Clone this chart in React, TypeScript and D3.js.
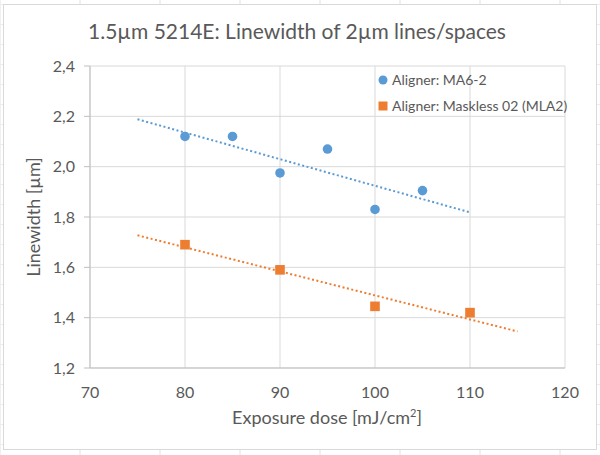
import * as d3 from 'd3';
import React from 'react';

// exposure dose [mJ/cm²] and measured linewidth [µm]
const ma6Dose = [80, 85, 90, 95, 100, 105];
const ma6Width = [2.12, 2.12, 1.975, 2.07, 1.83, 1.905];
const mlaDose = [80, 90, 100, 110];
const mlaWidth = [1.69, 1.59, 1.445, 1.42];

const xTicks = [70, 80, 90, 100, 110, 120];
const yTicks = [1.2, 1.4, 1.6, 1.8, 2.0, 2.2, 2.4];

const seriesNames = ['Aligner: MA6-2', 'Aligner: Maskless 02 (MLA2)'];
const BLUE = '#5B9BD5';
const ORANGE = '#ED7D31';
const TEXT = '#595959';
const FONT = 'Lato, "Open Sans", sans-serif';

// least squares line, like Excel's linear trendline
function fit(xs: number[], ys: number[]) {
    const mx = d3.mean(xs) as number;
    const my = d3.mean(ys) as number;
    let sxy = 0;
    let sxx = 0;
    xs.forEach((x, i) => {
        sxy += (x - mx) * (ys[i] - my);
        sxx += (x - mx) * (x - mx);
    });
    const slope = sxy / sxx;
    return (x: number) => my + slope * (x - mx);
}

const App: React.FC = () => {
    const width = 600;
    const height = 455;
    const plot = { left: 90, right: 565, top: 66, bottom: 368 };

    const x = d3.scaleLinear().domain([70, 120]).range([plot.left, plot.right]);
    const y = d3.scaleLinear().domain([1.2, 2.4]).range([plot.bottom, plot.top]);

    const line = d3.line<number[]>().x(d => x(d[0])).y(d => y(d[1]));

    // trendlines are forecast 5 units before and after the data
    const ma6Fit = fit(ma6Dose, ma6Width);
    const mlaFit = fit(mlaDose, mlaWidth);
    const ma6Trend = [75, 110].map(v => [v, ma6Fit(v)]);
    const mlaTrend = [75, 115].map(v => [v, mlaFit(v)]);

    const sheetCols = d3.range(0, 601, 80);
    const sheetRows = d3.range(0, 456, 20);

    return (
        <div>
            <style>{`body { margin: 0; }`}</style>
            <svg width={width} height={height} style={{ display: 'block', fontFamily: FONT }}>
                {/* spreadsheet behind the chart */}
                <rect width={width} height={height} fill="#fff" />
                {sheetCols.map(c => (
                    <line key={'c' + c} x1={c} x2={c} y1={0} y2={height} stroke="#e2e2e2" />
                ))}
                {sheetRows.map(r => (
                    <line key={'r' + r} x1={0} x2={width} y1={r + 4.5} y2={r + 4.5} stroke="#ececec" />
                ))}
                <rect x={3.5} y={4.5} width={593} height={445} fill="#fff" stroke="#d9d9d9" />

                <text x={297} y={39} textAnchor="middle" fontSize={21} fill={TEXT}>
                    1.5µm 5214E: Linewidth of 2µm lines/spaces
                </text>

                {/* grid */}
                {xTicks.map(t => (
                    <line key={'gx' + t} x1={x(t)} x2={x(t)} y1={plot.top} y2={plot.bottom} stroke="#d9d9d9" />
                ))}
                {yTicks.map(t => (
                    <line key={'gy' + t} x1={plot.left} x2={plot.right} y1={y(t)} y2={y(t)} stroke="#d9d9d9" />
                ))}
                <line x1={plot.left} x2={plot.left} y1={plot.top} y2={plot.bottom} stroke="#bfbfbf" />
                <line x1={plot.left} x2={plot.right} y1={plot.bottom} y2={plot.bottom} stroke="#bfbfbf" />
                {yTicks.map(t => (
                    <line key={'ty' + t} x1={plot.left - 6} x2={plot.left} y1={y(t)} y2={y(t)} stroke="#bfbfbf" />
                ))}

                {/* tick labels */}
                {yTicks.map(t => (
                    <text key={'ly' + t} x={75} y={y(t)} dy="0.35em" textAnchor="end" fontSize={16} fill={TEXT}>
                        {d3.format('.1f')(t).replace('.', ',')}
                    </text>
                ))}
                {xTicks.map(t => (
                    <text key={'lx' + t} x={x(t)} y={392} dy="0.35em" textAnchor="middle" fontSize={16} fill={TEXT}>
                        {t}
                    </text>
                ))}

                {/* axis titles */}
                <text x={327} y={424} textAnchor="middle" fontSize={18} fill={TEXT}>
                    Exposure dose [mJ/cm<tspan fontSize={11} dy={-7}>2</tspan><tspan dy={7}>]</tspan>
                </text>
                <text transform="translate(40,217) rotate(-90)" textAnchor="middle" fontSize={18} fill={TEXT}>
                    Linewidth [µm]
                </text>

                {/* trendlines */}
                <path d={line(ma6Trend) || ''} fill="none" stroke={BLUE} strokeWidth={2} strokeDasharray="2 2.5" />
                <path d={line(mlaTrend) || ''} fill="none" stroke={ORANGE} strokeWidth={2} strokeDasharray="2 2.5" />

                {/* markers */}
                {ma6Dose.map((d, i) => (
                    <circle key={'m' + i} cx={x(d)} cy={y(ma6Width[i])} r={4.8} fill={BLUE} />
                ))}
                {mlaDose.map((d, i) => (
                    <rect key={'s' + i} x={x(d) - 4.8} y={y(mlaWidth[i]) - 4.8} width={9.6} height={9.6} fill={ORANGE} />
                ))}

                {/* legend */}
                <circle cx={383} cy={80} r={4.5} fill={BLUE} />
                <text x={392} y={80} dy="0.35em" fontSize={14} fill={TEXT}>{seriesNames[0]}</text>
                <rect x={378.5} y={101.5} width={9} height={9} fill={ORANGE} />
                <text x={392} y={106} dy="0.35em" fontSize={14} fill={TEXT}>{seriesNames[1]}</text>
            </svg>
        </div>
    );
};

export default App;
